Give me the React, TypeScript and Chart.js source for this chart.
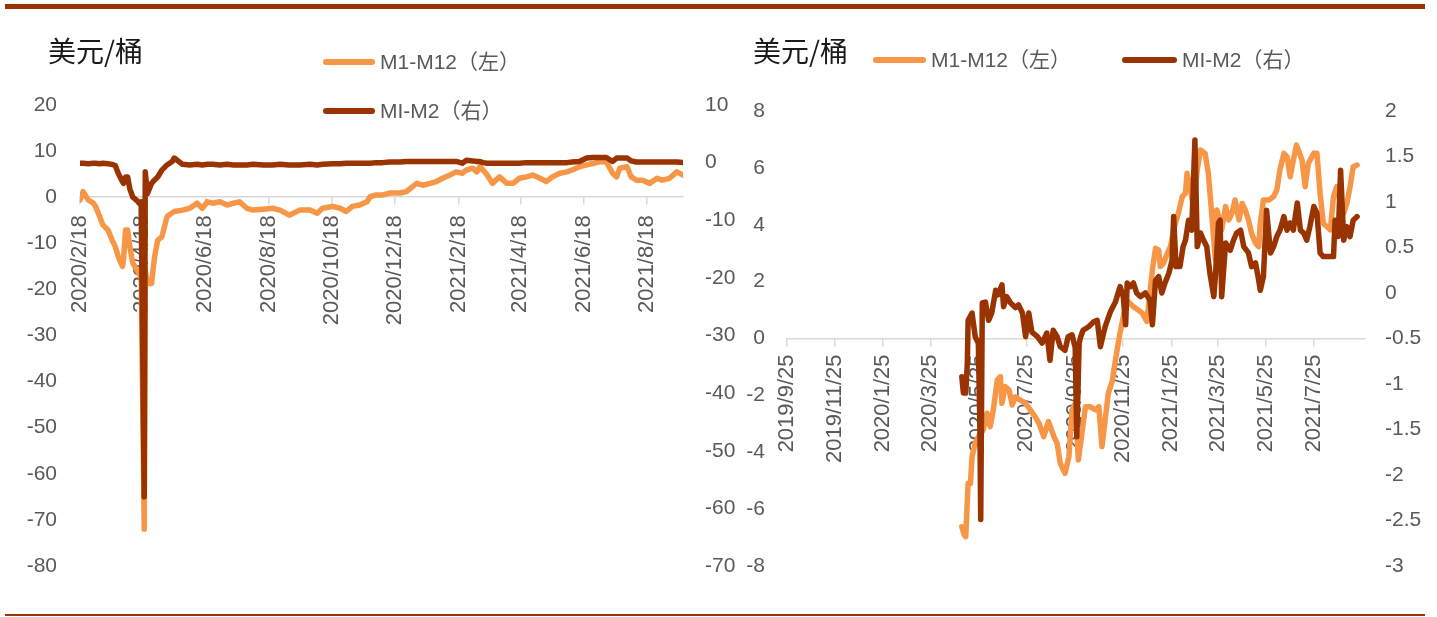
import React, { useEffect, useRef } from 'react';
import { Chart, registerables } from 'chart.js';

Chart.register(...registerables);

const ORANGE = '#F79646';
const DARK = '#993300';
const TICK_COLOR = '#595959';
const FONT = '"Liberation Sans", "Noto Sans CJK SC", sans-serif';

const titleText = '美元/桶';
const legendM1M12 = 'M1-M12（左）';
const legendM1M2 = 'MI-M2（右）';

// ---------- Left chart (days counted from 2020/2/18) ----------
const leftStart = '2020/2/18';
const leftTickLabels = ['2020/2/18', '2020/4/18', '2020/6/18', '2020/8/18', '2020/10/18', '2020/12/18', '2021/2/18', '2021/4/18', '2021/6/18', '2021/8/18'];
const leftMaxDay = 582;
const leftDays = [0, 3, 8, 13, 15, 19, 22, 27, 31, 34, 37, 41, 42, 44, 46, 48, 51, 55, 58, 59, 62, 63, 65, 69, 72, 75, 79, 84, 89, 91, 99, 106, 113, 118, 123, 128, 135, 142, 148, 154, 161, 167, 177, 186, 193, 202, 212, 222, 229, 234, 244, 251, 257, 263, 270, 277, 280, 286, 292, 299, 309, 315, 321, 325, 331, 338, 344, 350, 357, 363, 369, 373, 379, 383, 386, 389, 393, 398, 405, 412, 418, 424, 431, 437, 444, 450, 456, 463, 470, 475, 482, 489, 495, 502, 508, 514, 518, 521, 528, 532, 537, 543, 550, 557, 562, 569, 576, 582];
const leftM1M12 = [-0.6, 1.2, -0.6, -1.3, -2, -4.2, -6, -7.1, -9.3, -10.7, -12.9, -15, -13.6, -7.1, -7.1, -10.7, -14.3, -15.8, -17, -16, -72, -16, -18.7, -18.7, -12.9, -9.3, -8.6, -4.2, -3.4, -3.1, -2.8, -2.4, -1.3, -2.4, -1, -1.3, -1, -1.7, -1.3, -1, -2.4, -2.8, -2.6, -2.4, -2.8, -3.9, -2.8, -2.8, -3.5, -2.4, -2, -2.4, -3.1, -2, -1.7, -1, 0.1, 0.5, 0.5, 0.9, 0.9, 1.2, 2.3, 3, 2.6, 3, 3.4, 4.1, 4.8, 5.5, 5.2, 5.9, 6.3, 5.5, 6.6, 5.9, 4.8, 3, 4.4, 3, 3, 4.1, 4.4, 4.8, 4.1, 3.4, 4.4, 5.2, 5.5, 5.9, 6.6, 7, 7.3, 7.7, 7.7, 5.2, 4.4, 6.3, 6.6, 4.4, 3.7, 3.7, 3, 4.1, 3.7, 4.1, 5.5, 4.8];
const leftM1M2 = [-0.1, -0.1, -0.2, -0.1, -0.1, -0.2, -0.1, -0.2, -0.3, -0.5, -1.9, -3.3, -3.6, -2.5, -2.5, -4.5, -6, -6.6, -7.2, -6.8, -58, -1.6, -5.4, -3.6, -3, -2.5, -1.3, -0.4, 0.2, 0.8, -0.3, -0.4, -0.3, -0.4, -0.3, -0.3, -0.4, -0.3, -0.4, -0.4, -0.4, -0.3, -0.4, -0.4, -0.3, -0.4, -0.4, -0.3, -0.4, -0.3, -0.2, -0.2, -0.1, -0.1, -0.1, -0.1, -0.1, 0, 0, 0.1, 0.1, 0.2, 0.2, 0.2, 0.2, 0.2, 0.2, 0.2, 0.2, 0.2, -0.1, 0.4, 0.3, 0.2, 0.2, 0, -0.1, -0.1, -0.1, -0.1, -0.1, -0.1, 0, 0, 0, 0, 0, 0, 0, 0.1, 0.2, 0.8, 0.9, 0.9, 0.9, 0.2, 0.8, 0.8, 0.8, 0.3, 0.1, 0.1, 0.1, 0.1, 0.1, 0.1, 0.1, 0];

// ---------- Right chart (days counted from 2019/9/25) ----------
const rightStart = '2019/9/25';
const rightTickLabels = ['2019/9/25', '2019/11/25', '2020/1/25', '2020/3/25', '2020/5/25', '2020/7/25', '2020/9/25', '2020/11/25', '2021/1/25', '2021/3/25', '2021/5/25', '2021/7/25'];
const rightMaxDay = 734;
const rightDaysM1M12 = [222, 225, 227, 230, 233, 235, 239, 243, 249, 254, 258, 262, 267, 271, 273, 277, 282, 286, 290, 296, 303, 309, 315, 320, 326, 332, 339, 343, 347, 353, 358, 362, 366, 370, 375, 379, 385, 392, 396, 400, 404, 408, 413, 418, 423, 428, 433, 440, 446, 451, 457, 464, 468, 472, 474, 478, 483, 487, 491, 497, 502, 506, 508, 512, 516, 521, 525, 531, 535, 540, 544, 546, 552, 557, 561, 565, 569, 574, 578, 582, 586, 590, 595, 599, 601, 605, 612, 618, 622, 626, 631, 635, 639, 643, 647, 651, 654, 658, 662, 669, 673, 677, 681, 686, 690, 694, 698, 702, 707, 711, 715, 719, 724];
const rightM1M12 = [-6.62, -6.9, -6.97, -5.09, -5.09, -4.15, -3.68, -3.45, -3.22, -2.63, -3.1, -2.51, -1.46, -1.34, -2.28, -1.69, -1.81, -2.34, -2.05, -2.16, -2.28, -2.51, -2.75, -2.98, -3.45, -2.92, -3.45, -3.68, -4.39, -4.74, -4.15, -2.51, -2.28, -4.27, -3.22, -2.4, -2.4, -2.51, -2.4, -3.8, -2.86, -1.93, -1.5, -0.6, 0.2, 0.9, 1.3, 1.12, 1.0, 0.9, 0.6, 2.41, 3.17, 3.11, 2.53, 2.64, 3.0, 3.23, 3.82, 4.41, 4.99, 5.11, 5.81, 5.34, 4.6, 5.93, 6.63, 6.51, 5.81, 4.17, 2.76, 4.52, 3.82, 4.64, 4.17, 4.4, 4.87, 4.17, 4.75, 4.52, 4.17, 3.7, 3.35, 3.23, 4.05, 4.87, 4.87, 4.99, 5.22, 5.93, 6.51, 6.39, 5.69, 6.28, 6.8, 6.51, 6.28, 5.34, 6.16, 6.51, 6.51, 5.11, 4.05, 3.93, 3.82, 4.99, 5.34, 4.87, 4.41, 4.75, 5.34, 6.04, 6.1];
const rightDaysM1M2 = [222, 224, 227, 229, 230, 235, 239, 243, 245, 246, 248, 252, 256, 260, 265, 268, 273, 275, 279, 284, 290, 294, 299, 303, 307, 311, 318, 324, 330, 334, 338, 343, 347, 353, 357, 362, 366, 368, 371, 373, 376, 383, 389, 394, 398, 404, 411, 417, 423, 427, 430, 432, 436, 440, 444, 449, 455, 461, 464, 468, 472, 476, 480, 485, 489, 491, 494, 499, 503, 506, 510, 514, 518, 521, 525, 529, 533, 537, 542, 544, 548, 550, 552, 557, 563, 567, 571, 576, 580, 586, 590, 595, 599, 601, 605, 609, 614, 618, 622, 626, 631, 635, 639, 643, 648, 652, 656, 660, 664, 669, 673, 677, 681, 690, 694, 696, 700, 703, 707, 711, 715, 719, 724];
const rightM1M2 = [-0.92, -1.1, -1.1, -0.77, -0.3, -0.22, -0.48, -0.55, -1.5, -2.49, -0.11, -0.1, -0.3, -0.22, 0.03, -0.02, 0.09, -0.15, -0.04, -0.11, -0.16, -0.13, -0.22, -0.48, -0.22, -0.43, -0.48, -0.55, -0.44, -0.74, -0.41, -0.48, -0.59, -0.63, -0.48, -0.46, -0.6, -1.58, -0.55, -0.48, -0.41, -0.37, -0.32, -0.3, -0.59, -0.37, -0.2, -0.1, 0.07, -0.04, -0.35, 0.11, 0.07, 0.11, 0.0, -0.04, 0.0, -0.08, -0.35, 0.14, 0.18, 0.0, 0.11, 0.22, 0.36, 0.84, 0.29, 0.29, 0.51, 0.58, 0.8, 0.69, 1.68, 0.51, 0.66, 0.58, 0.51, 0.22, -0.04, 0.18, 0.77, 0.8, -0.04, 0.55, 0.47, 0.58, 0.66, 0.69, 0.51, 0.44, 0.29, 0.33, 0.14, 0.03, 0.18, 0.91, 0.44, 0.51, 0.62, 0.69, 0.84, 0.69, 0.77, 0.69, 0.99, 0.69, 0.66, 0.58, 0.73, 0.95, 0.88, 0.44, 0.4, 0.4, 0.4, 0.8, 0.62, 1.35, 0.58, 0.73, 0.62, 0.8, 0.84];

function parseDate(s: string): number {
  const [y, m, d] = s.split('/').map(Number);
  return Date.UTC(y, m - 1, d);
}
function dayOffset(start: string, s: string): number {
  return Math.round((parseDate(s) - parseDate(start)) / 86400000);
}

interface AxisSpec { min: number; max: number; step: number; width: number; padding: number }

interface ChartSpec {
  width: number;
  height: number;
  start: string;
  tickLabels: string[];
  maxDay: number;
  daysA: number[];
  valuesA: number[];
  daysB: number[];
  valuesB: number[];
  yLeft: AxisSpec;
  yRight: AxisSpec;
  padding: { left: number; right: number; top: number; bottom: number };
  xPadding: number;
}

function buildConfig(spec: ChartSpec): any {
  const tickDays = spec.tickLabels.map((l) => dayOffset(spec.start, l));
  const tickFont = { family: FONT, size: 21 };
  const fmt = (v: number | string) => String(Math.round(Number(v) * 100) / 100);
  const yAxis = (a: AxisSpec, position: string) => ({
    type: 'linear',
    position,
    min: a.min,
    max: a.max,
    afterFit: (scale: any) => {
      scale.width = a.width;
    },
    ticks: { stepSize: a.step, padding: a.padding, color: TICK_COLOR, font: tickFont, callback: fmt },
    grid: { display: false, drawTicks: false },
    border: { display: false },
  });
  return {
    type: 'line',
    data: {
      datasets: [
        {
          label: legendM1M12,
          data: spec.daysA.map((d, i) => ({ x: d, y: spec.valuesA[i] })),
          borderColor: ORANGE,
          backgroundColor: ORANGE,
          yAxisID: 'y',
          order: 1,
        },
        {
          label: legendM1M2,
          data: spec.daysB.map((d, i) => ({ x: d, y: spec.valuesB[i] })),
          borderColor: DARK,
          backgroundColor: DARK,
          yAxisID: 'y1',
          order: 0,
        },
      ],
    },
    options: {
      animation: false,
      responsive: false,
      maintainAspectRatio: false,
      events: [],
      layout: { padding: spec.padding },
      plugins: { legend: { display: false }, tooltip: { enabled: false }, title: { display: false } },
      elements: {
        point: { radius: 0, hoverRadius: 0 },
        line: { borderWidth: 5.5, tension: 0, borderCapStyle: 'round', borderJoinStyle: 'round', fill: false },
      },
      scales: {
        x: {
          type: 'linear',
          position: { y: 0 },
          min: 0,
          max: spec.maxDay,
          afterBuildTicks: (scale: any) => {
            scale.ticks = tickDays.map((v) => ({ value: v }));
          },
          afterFit: (scale: any) => {
            scale.height = 0;
          },
          ticks: {
            autoSkip: false,
            maxRotation: 90,
            minRotation: 90,
            padding: spec.xPadding,
            color: TICK_COLOR,
            font: { family: FONT, size: 22 },
            callback: (_v: any, i: number) => spec.tickLabels[i],
          },
          grid: {
            display: true,
            drawOnChartArea: false,
            drawTicks: true,
            tickLength: 7,
            color: '#d9d9d9',
            lineWidth: 1.5,
          },
          border: { display: true, color: '#d9d9d9', width: 1.5 },
        },
        y: yAxis(spec.yLeft, 'left'),
        y1: yAxis(spec.yRight, 'right'),
      },
    },
  };
}

const leftSpec: ChartSpec = {
  width: 760,
  height: 617,
  start: leftStart,
  tickLabels: leftTickLabels,
  maxDay: leftMaxDay,
  daysA: leftDays,
  valuesA: leftM1M12,
  daysB: leftDays,
  valuesB: leftM1M2,
  yLeft: { min: -80, max: 20, step: 10, width: 75, padding: 23 },
  yRight: { min: -70, max: 10, step: 10, width: 77, padding: 22 },
  padding: { left: 5, right: 0, top: 105, bottom: 51 },
  xPadding: 11,
};

const rightSpec: ChartSpec = {
  width: 717,
  height: 617,
  start: rightStart,
  tickLabels: rightTickLabels,
  maxDay: rightMaxDay,
  daysA: rightDaysM1M12,
  valuesA: rightM1M12,
  daysB: rightDaysM1M2,
  valuesB: rightM1M2,
  yLeft: { min: -8, max: 8, step: 2, width: 62, padding: 22 },
  yRight: { min: -3, max: 2, step: 0.5, width: 72, padding: 20 },
  padding: { left: 5, right: 0, top: 111, bottom: 51 },
  xPadding: 9,
};

function LineChart({ spec, left }: { spec: ChartSpec; left: number }) {
  const ref = useRef<HTMLCanvasElement>(null);
  useEffect(() => {
    if (!ref.current) return;
    const chart = new Chart(ref.current, buildConfig(spec));
    return () => chart.destroy();
  }, [spec]);
  return (
    <canvas
      ref={ref}
      width={spec.width}
      height={spec.height}
      style={{ position: 'absolute', left, top: 0, width: spec.width, height: spec.height }}
    />
  );
}

function LegendItem({ x, y, color, text, lineWidth }: { x: number; y: number; color: string; text: string; lineWidth: number }) {
  return (
    <div style={{ position: 'absolute', left: x, top: y - 15, height: 30, display: 'flex', alignItems: 'center', whiteSpace: 'nowrap' }}>
      <div style={{ width: lineWidth, height: 5.5, borderRadius: 3, background: color }} />
      <span style={{ marginLeft: 5, fontFamily: FONT, fontSize: 21, color: TICK_COLOR, lineHeight: '30px' }}>{text}</span>
    </div>
  );
}

function Title({ x }: { x: number }) {
  return (
    <div
      style={{
        position: 'absolute',
        left: x,
        top: 36,
        fontFamily: '"Noto Sans CJK SC", sans-serif',
        fontSize: 28,
        lineHeight: '28px',
        color: '#1a1a1a',
        whiteSpace: 'nowrap',
      }}
    >
      {titleText}
    </div>
  );
}

export default function App() {
  return (
    <div style={{ position: 'absolute', left: 0, top: 0, width: 1437, height: 617, background: '#ffffff', overflow: 'hidden' }}>
      <div style={{ position: 'absolute', left: 5, top: 4, width: 1420, height: 5, background: DARK }} />
      <div style={{ position: 'absolute', left: 5, top: 614, width: 1420, height: 1.5, background: DARK }} />
      <LineChart spec={leftSpec} left={0} />
      <LineChart spec={rightSpec} left={720} />
      <Title x={48} />
      <Title x={753} />
      <LegendItem x={323} y={62} color={ORANGE} text={legendM1M12} lineWidth={52} />
      <LegendItem x={323} y={111} color={DARK} text={legendM1M2} lineWidth={52} />
      <LegendItem x={873} y={60} color={ORANGE} text={legendM1M12} lineWidth={53} />
      <LegendItem x={1122} y={60} color={DARK} text={legendM1M2} lineWidth={55} />
    </div>
  );
}
